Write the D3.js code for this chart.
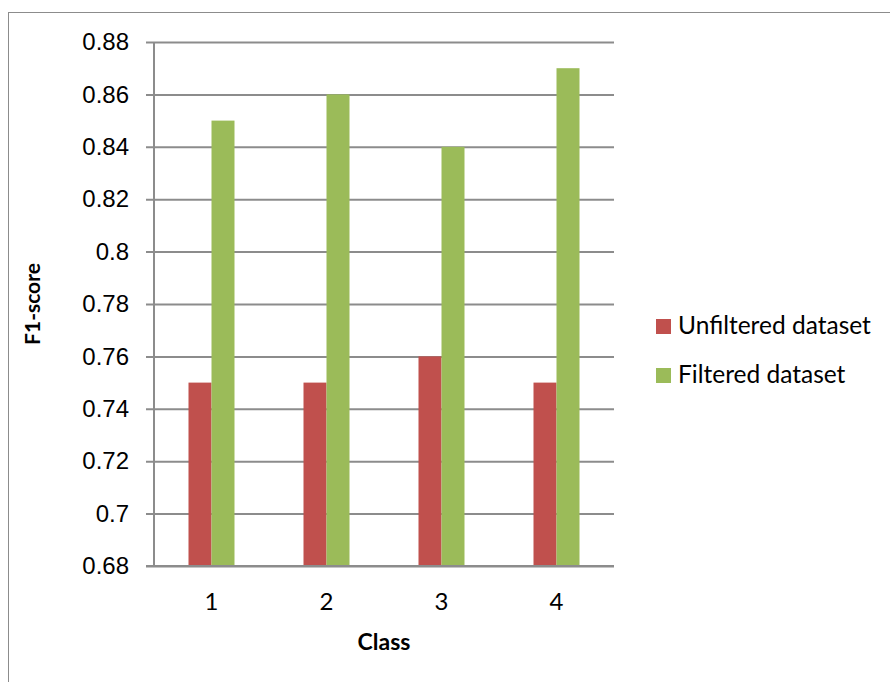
<!DOCTYPE html>
<html>
<head>
<meta charset="utf-8">
<script src="https://cdn.jsdelivr.net/npm/d3@7"></script>
<style>
  html, body { margin: 0; padding: 0; background: #fff; }
  svg { display: block; font-family: Lato, "Open Sans", sans-serif; }
</style>
</head>
<body>
<svg id="chart" width="890" height="682"></svg>
<script>
// F1-score per class, unfiltered vs filtered dataset
const classes = ["1", "2", "3", "4"];
const seriesNames = ["Unfiltered dataset", "Filtered dataset"];
const unfiltered = [0.75, 0.75, 0.76, 0.75];
const filtered = [0.85, 0.86, 0.84, 0.87];
const yTicks = [0.68, 0.70, 0.72, 0.74, 0.76, 0.78, 0.80, 0.82, 0.84, 0.86, 0.88];
const colors = ["#c0504d", "#9bbb59"];

const svg = d3.select("#chart");

// outer chart frame
svg.append("rect")
  .attr("x", 8.5).attr("y", 12.5)
  .attr("width", 900).attr("height", 700)
  .attr("fill", "none").attr("stroke", "#8c8c8c").attr("stroke-width", 1);

const plot = { left: 154, right: 614, top: 42, bottom: 566 };

const x = d3.scaleBand().domain(classes).range([plot.left, plot.right]);
const y = d3.scaleLinear().domain([0.68, 0.88]).range([plot.bottom, plot.top]);
const barW = x.bandwidth() * 0.2;

// horizontal gridlines with tick marks
const yAxis = d3.axisLeft(y).tickValues(yTicks)
  .tickSize(-(plot.right - plot.left))
  .tickPadding(25)
  .tickFormat(d => d3.format("")(+d.toFixed(2)));

const gy = svg.append("g").attr("transform", `translate(${plot.left},0)`).call(yAxis);
gy.select(".domain").remove();
gy.selectAll(".tick line").attr("stroke", "#8c8c8c").attr("stroke-width", 2).attr("x1", -8);
gy.selectAll(".tick text").attr("fill", "#000").attr("font-size", 24);

// bars
const groups = svg.append("g").selectAll("g").data(classes).join("g");
groups.append("rect")
  .attr("x", (d, i) => x(d) + x.bandwidth() / 2 - barW)
  .attr("y", (d, i) => y(unfiltered[i]))
  .attr("width", barW)
  .attr("height", (d, i) => y(0.68) - y(unfiltered[i]))
  .attr("fill", colors[0]);
groups.append("rect")
  .attr("x", (d, i) => x(d) + x.bandwidth() / 2)
  .attr("y", (d, i) => y(filtered[i]))
  .attr("width", barW)
  .attr("height", (d, i) => y(0.68) - y(filtered[i]))
  .attr("fill", colors[1]);

// vertical axis line
svg.append("line")
  .attr("x1", plot.left).attr("x2", plot.left)
  .attr("y1", plot.top).attr("y2", plot.bottom)
  .attr("stroke", "#8c8c8c").attr("stroke-width", 2);

// category axis
const xAxis = d3.axisBottom(x).tickSize(0).tickPadding(27);
const gx = svg.append("g").attr("transform", `translate(0,${plot.bottom})`).call(xAxis);
gx.select(".domain").attr("stroke", "#8c8c8c").attr("stroke-width", 2)
  .attr("d", `M${plot.left - 8},0H${plot.right}`);
gx.selectAll(".tick text").attr("fill", "#000").attr("font-size", 24).attr("font-family", "Lato, sans-serif");

// axis titles
svg.append("text")
  .attr("x", (plot.left + plot.right) / 2).attr("y", 650)
  .attr("text-anchor", "middle").attr("font-weight", "bold").attr("font-size", 23)
  .text("Class");
svg.append("text")
  .attr("transform", `translate(40,${(plot.top + plot.bottom) / 2}) rotate(-90)`)
  .attr("text-anchor", "middle").attr("font-weight", "bold").attr("font-size", 21)
  .text("F1-score");

// legend
const legend = svg.append("g").selectAll("g").data(seriesNames).join("g")
  .attr("transform", (d, i) => `translate(656,${319 + i * 49})`);
legend.append("rect").attr("width", 15).attr("height", 15).attr("fill", (d, i) => colors[i]);
legend.append("text").attr("x", 22).attr("y", 15).attr("font-size", 24.5).attr("fill", "#000").text(d => d);
</script>
</body>
</html>
